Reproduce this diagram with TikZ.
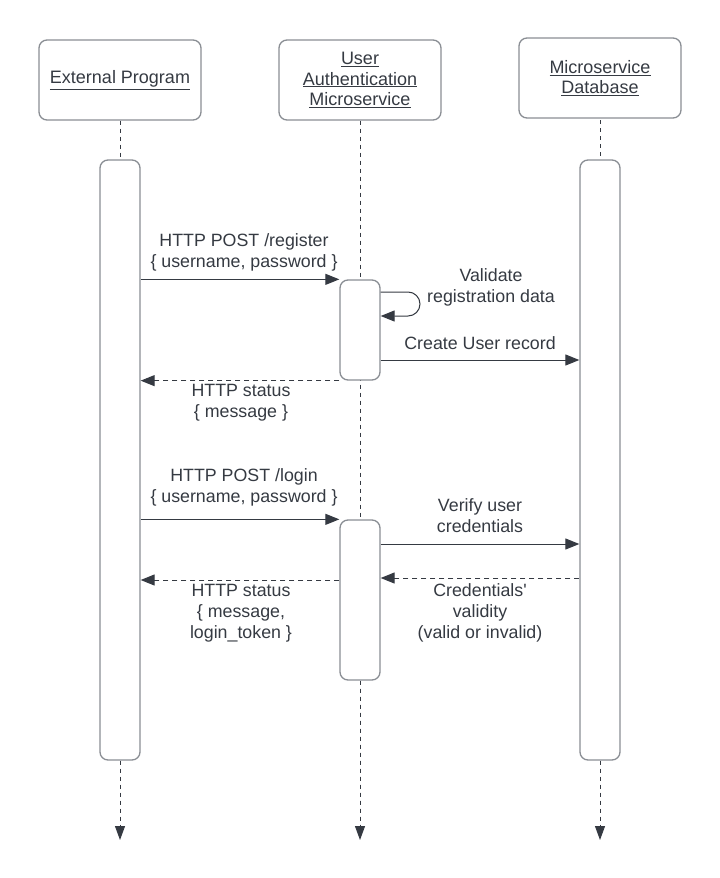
\documentclass[tikz,border=0pt]{standalone}
\usepackage{fontspec}
\setmainfont{Liberation Sans}
\newfontfamily\rawfont{Liberation Sans}
\usetikzlibrary{arrows.meta}
\definecolor{ink}{HTML}{353A42}
\definecolor{boxline}{HTML}{8A8E94}
\begin{document}
\begin{tikzpicture}[x=1pt,y=-1pt,
  headbox/.style={draw=boxline,line width=1.3pt,rounded corners=8pt,minimum width=162pt,minimum height=80pt,inner sep=0pt,align=center,text=ink,font=\fontsize{18}{20.5}\selectfont},
  actbar/.style={draw=boxline,line width=1.3pt,rounded corners=8pt,minimum width=40pt,inner sep=0pt,fill=white},
  lifeline/.style={draw=ink,line width=0.9pt,dash pattern=on 4pt off 4pt},
  msg/.style={draw=ink,line width=1pt,-{Triangle[length=14pt,width=11pt]}},
  reply/.style={msg,dash pattern=on 5pt off 4pt},
  lbl/.style={text=ink,align=center,inner sep=0pt,font=\fontsize{17.8}{21}\selectfont}]
\useasboundingbox (0,0) rectangle (720,878);
% headers
\node[headbox] (ext) at (120,80) {\underline{External Program}};
\node[headbox] (auth) at (360,80) {\underline{User}\\\underline{Authentication}\\\underline{Microservice}};
\node[headbox] (db) at (600,78) {\underline{Microservice}\\\underline{Database}};
% end coordinates
\coordinate (extEnd) at (120,840);
\coordinate (authEnd) at (360,840);
\coordinate (dbEnd) at (600,840);
% lifelines
\draw[lifeline] (ext.south) -- (120,160);
\draw[lifeline] (600,120) -- (600,160);
\draw[lifeline] (auth.south) -- (extEnd -| auth.south);
% bars
\node[actbar,minimum height=600pt] (extbar) at (120,460) {};
\node[actbar,minimum height=600pt] (dbbar) at (600,460) {};
\node[actbar,minimum height=100pt] (authbarA) at (360,330) {};
\node[actbar,minimum height=160pt] (authbarB) at (360,600) {};
% lower lifelines with arrows
\draw[lifeline,-{Triangle[length=14pt,width=10pt]}] (extbar.south) -- (extEnd);
\draw[lifeline,-{Triangle[length=14pt,width=10pt]}] (authbarB.south) -- (authEnd);
\draw[lifeline,-{Triangle[length=14pt,width=10pt]}] (dbbar.south) -- (dbEnd);
% y levels
\coordinate (yLoopA) at (0,292);
\coordinate (yLoopB) at (0,316);
\coordinate (yCreate) at (0,360);
\coordinate (yVerify) at (0,544);
\coordinate (yCred) at (0,578);
\coordinate (yStatB) at (0,580);
\coordinate (loopR) at (420,0);
% register
\draw[msg] (authbarA.north west -| extbar.east) -- (authbarA.north west);
\node[lbl] (regl) at (244,252) {HTTP POST /register\\\{ username, password \}};
% self loop
\draw[msg,rounded corners=12pt] (authbarA.east |- yLoopA) -- (loopR |- yLoopA) -- (loopR |- yLoopB) -- (authbarA.east |- yLoopB);
\node[lbl] (vall) at (491,287) {Validate\\registration data};
% create
\draw[msg] (authbarA.east |- yCreate) -- (dbbar.west |- yCreate);
\node[lbl] (crel) at (480,343) {Create User record};
% status A
\draw[reply] (authbarA.south west) -- (authbarA.south west -| extbar.east);
\node[lbl] (stAl) at (241,403) {HTTP status\\\{ message \}};
% login
\draw[msg] (authbarB.north west -| extbar.east) -- (authbarB.north west);
\node[lbl] (logl) at (244,487) {HTTP POST /login\\\{ username, password \}};
% verify
\draw[msg] (authbarB.east |- yVerify) -- (dbbar.west |- yVerify);
\node[lbl] (verl) at (480,516) {Verify user\\credentials};
% credentials reply
\draw[reply] (dbbar.west |- yCred) -- (authbarB.east |- yCred);
\node[lbl] (credl) at (480,613) {Credentials{\rawfont '}\\validity\\(valid or invalid)};
% status B
\draw[reply] (authbarB.west |- yStatB) -- (extbar.east |- yStatB);
\node[lbl] (stBl) at (241,613) {HTTP status\\\{ message,\\login\_token \}};
\end{tikzpicture}
\end{document}
